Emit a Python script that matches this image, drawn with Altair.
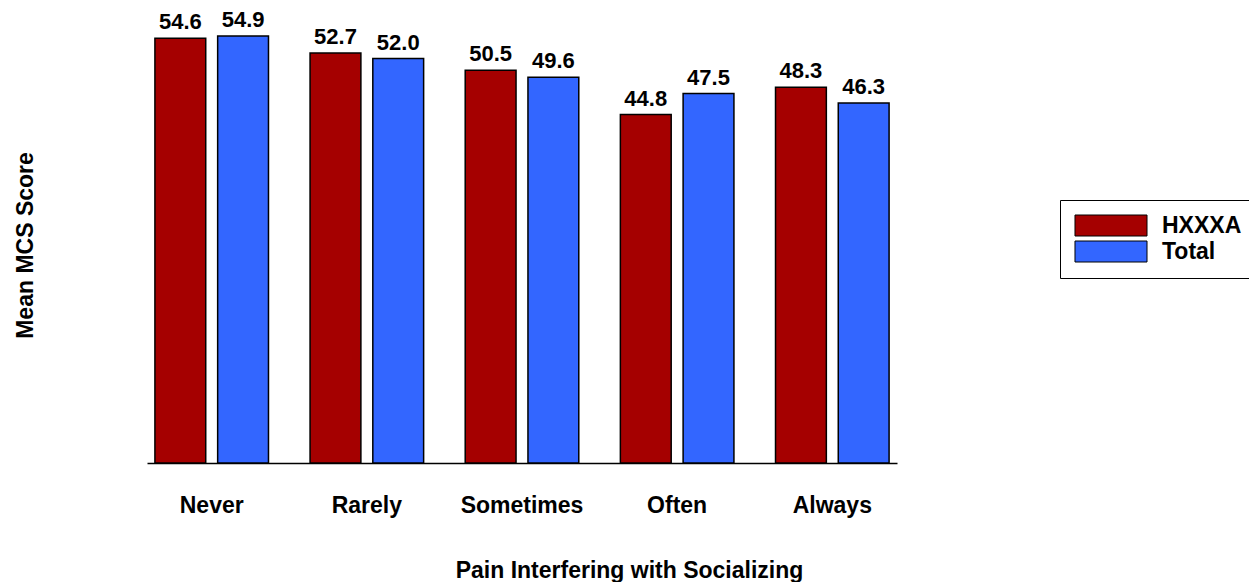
import altair as alt
import pandas as pd

categories = ["Never", "Rarely", "Sometimes", "Often", "Always"]
series_names = ["HXXXA", "Total"]
hxxxa = [54.6, 52.7, 50.5, 44.8, 48.3]
total = [54.9, 52.0, 49.6, 47.5, 46.3]
colors = ["#A50000", "#3366FF"]

rows = []
for c, a, t in zip(categories, hxxxa, total):
    rows.append({"cat": c, "series": "HXXXA", "value": a})
    rows.append({"cat": c, "series": "Total", "value": t})
df = pd.DataFrame(rows)

FONT = "Liberation Sans"

x = alt.X("cat:N", sort=categories,
          scale=alt.Scale(paddingInner=0.268, paddingOuter=0.051),
          axis=alt.Axis(title="Pain Interfering with Socializing", labelAngle=0,
                        ticks=False, tickSize=0, domainColor="black", domainWidth=1.5,
                        labelPadding=42, labelBaseline="middle", labelFontSize=23,
                        labelFontWeight="bold", labelColor="black", labelFont=FONT,
                        titleFontSize=23, titleFontWeight="bold", titleFont=FONT,
                        titleColor="black", titleX=482, titleY=107, titleBaseline="middle",
                        titleAnchor="middle"))
xo = alt.XOffset("series:N", sort=series_names,
                 scale=alt.Scale(paddingInner=0.19, paddingOuter=0))
y = alt.Y("value:Q", scale=alt.Scale(domain=[0, 58.5], nice=False, zero=True),
          axis=alt.Axis(title="Mean MCS Score", labels=False, ticks=False, domain=False,
                        grid=False, titleFontSize=23, titleFontWeight="bold", titleFont=FONT,
                        titleColor="black", titleX=-122, titleY=237, titleAngle=-90,
                        titleBaseline="middle", titleAnchor="middle"))

bars = alt.Chart(df).mark_bar(stroke="black", strokeWidth=1.5).encode(
    x=x, xOffset=xo, y=y,
    color=alt.Color("series:N", sort=series_names,
                    scale=alt.Scale(domain=series_names, range=colors),
                    legend=alt.Legend(title=None, orient="none", legendX=913, legendY=192,
                                      strokeColor="black", padding=14, fillColor="white",
                                      symbolType="M-3.43,-1H3.43V1H-3.43Z", symbolSize=441,
                                      symbolStrokeColor="black", symbolStrokeWidth=1,
                                      symbolOffset=25.5, labelOffset=39.5, rowPadding=1,
                                      labelFontSize=23, labelFontWeight="bold",
                                      labelFont=FONT, labelColor="black")),
)

labels = alt.Chart(df).mark_text(baseline="alphabetic", dy=-9, fontSize=22,
                                 fontWeight="bold", font=FONT, color="black").encode(
    x=x, xOffset=xo, y=y, text=alt.Text("value:Q", format=".1f"))

chart = alt.layer(bars, labels).properties(
    width=750, height=455,
    autosize=alt.AutoSizeParams(type="none"),
    padding={"left": 139, "top": 0, "right": 352, "bottom": 119},
).configure_view(stroke=None).configure_axis(grid=False)

chart.save("out.html", embed_options={"renderer": "svg", "actions": False})
